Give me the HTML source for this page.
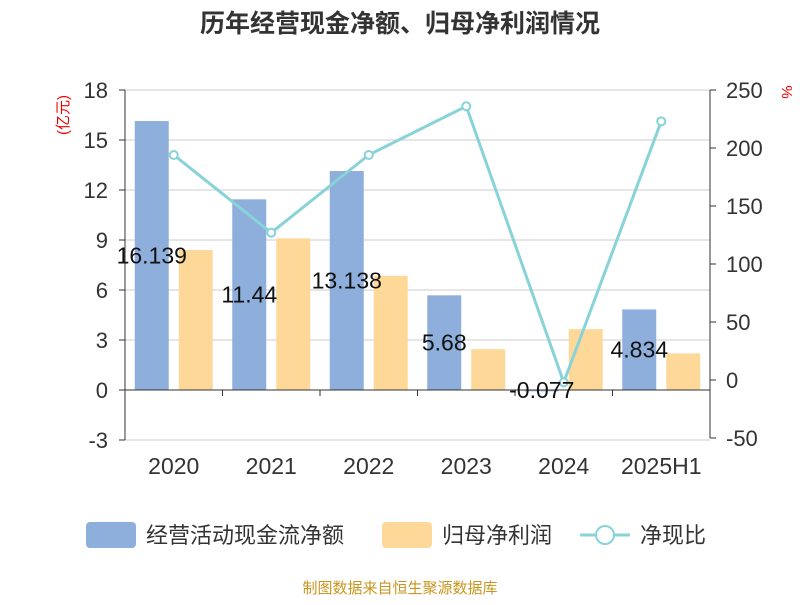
<!DOCTYPE html>
<html><head><meta charset="utf-8"><style>
body{margin:0;background:#fff;font-family:"Liberation Sans","Noto Sans CJK SC",sans-serif}
</style></head><body>
<svg width="800" height="600" xmlns="http://www.w3.org/2000/svg" font-family="Liberation Sans, Noto Sans CJK SC, sans-serif">
<text x="400" y="32" text-anchor="middle" font-size="25" font-weight="bold" fill="#333">历年经营现金净额、归母净利润情况</text>
<text transform="translate(68,115) rotate(-90)" text-anchor="middle" font-size="15" fill="#e00">(亿元)</text>
<text transform="translate(782,92) rotate(90)" text-anchor="middle" font-size="15" fill="#e00">%</text>
<g id="grid"></g><g id="bars"></g><g id="axes"></g><g id="line"></g><g id="labels"></g>
<g>
<rect x="86" y="522" width="50" height="26" rx="4" fill="#8eaedb"/>
<text x="146" y="543" font-size="22" fill="#333">经营活动现金流净额</text>
<rect x="382" y="522" width="50" height="26" rx="4" fill="#fed899"/>
<text x="442" y="543" font-size="22" fill="#333">归母净利润</text>
<line x1="580" y1="535" x2="630" y2="535" stroke="#88d3d8" stroke-width="3"/>
<circle cx="605" cy="535" r="9" fill="#fff" stroke="#88d3d8" stroke-width="2"/>
<text x="640" y="543" font-size="22" fill="#333">净现比</text>
</g>
<text x="400" y="593" text-anchor="middle" font-size="15" fill="#c8961e">制图数据来自恒生聚源数据库</text>
</svg>
<script>
const categories=["2020","2021","2022","2023","2024","2025H1"];
const cashflow=[16.139,11.44,13.138,5.68,-0.077,4.834];
const cashLabels=["16.139","11.44","13.138","5.68","-0.077","4.834"];
const profit=[8.4,9.1,6.85,2.45,3.65,2.2];
const ratio=[194,127,194,236,-2,223];
const leftTicks=[-3,0,3,6,9,12,15,18];
const rightTicks=[-50,0,50,100,150,200,250];
const NS="http://www.w3.org/2000/svg";
const L=125,R=710;
const yL=v=>390-v*50/3;
const yR=v=>380-v*58/50;
const bw=(R-L)/categories.length;
const xc=i=>L+bw*(i+0.5);
function mk(p,tag,a){const e=document.createElementNS(NS,tag);for(const k in a)e.setAttribute(k,a[k]);document.getElementById(p).appendChild(e);return e;}
leftTicks.forEach(t=>{
 const g=mk("grid","line",{x1:L,x2:R,y1:yL(t),y2:yL(t),stroke:"#ccc","stroke-width":1});
 
 
 mk("axes","line",{x1:L-6,x2:L,y1:yL(t),y2:yL(t),stroke:"#333"});
 const tx=mk("axes","text",{x:L-17,y:yL(t)+8,"text-anchor":"end","font-size":22,fill:"#333"});tx.textContent=t;
 
 
});
rightTicks.forEach(t=>{
 mk("axes","line",{x1:R,x2:R+6,y1:yR(t),y2:yR(t),stroke:"#333"});
 const tx=mk("axes","text",{x:R+16,y:yR(t)+8,"font-size":22,fill:"#333"});tx.textContent=t;
 
 
});
mk("axes","line",{x1:L,x2:L,y1:yL(18),y2:yL(-3),stroke:"#333"});
mk("axes","line",{x1:R,x2:R,y1:yR(250),y2:yR(-50),stroke:"#333"});
mk("axes","line",{x1:L,x2:R,y1:yL(0),y2:yL(0),stroke:"#333"});
categories.forEach((c,i)=>{
 mk("axes","line",{x1:L+bw*i,x2:L+bw*i,y1:yL(0),y2:yL(0)+6,stroke:"#333"});
 const tx=mk("axes","text",{x:xc(i),y:474,"text-anchor":"middle","font-size":23,fill:"#333"});tx.textContent=c;
 
 
 const v=cashflow[i];
 const b=mk("bars","rect",{x:xc(i)-39,width:34,y:Math.min(yL(v),yL(0)),height:Math.abs(yL(v)-yL(0)),fill:"#8eaedb"});
 
 
 const p=profit[i];
 const b2=mk("bars","rect",{x:xc(i)+5,width:34,y:Math.min(yL(p),yL(0)),height:Math.abs(yL(p)-yL(0)),fill:"#fed899"});
 
 
 const ly=v>0?(yL(v)+yL(0))/2+8:yL(0)+8;
 const lt=mk("labels","text",{x:xc(i)-22,y:ly,"text-anchor":"middle","font-size":23,fill:"#111"});lt.textContent=cashLabels[i];
 
 
});
const pts=ratio.map((v,i)=>[xc(i),yR(v)]);
const pl=mk("line","polyline",{points:pts.map(p=>p.join(",")).join(" "),fill:"none",stroke:"#88d3d8","stroke-width":3});


pts.forEach((p,i)=>{
 const c=mk("line","circle",{cx:p[0],cy:p[1],r:4,fill:"#fff",stroke:"#88d3d8","stroke-width":2});
 
 
});
</script>
</body></html>
